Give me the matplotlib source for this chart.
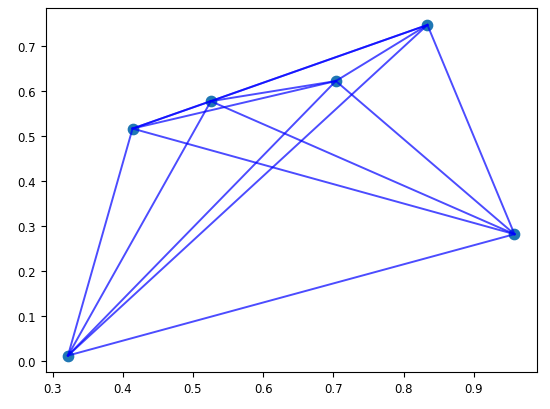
import itertools
import matplotlib
matplotlib.use("Agg")
import matplotlib.pyplot as plt

# node coordinates
x = [0.322, 0.414, 0.5255, 0.7036, 0.834, 0.958]
y = [0.011, 0.517, 0.578, 0.623, 0.748, 0.2816]

fig, ax = plt.subplots(figsize=(5.5, 4.1), dpi=100)
fig.subplots_adjust(left=0.083, right=0.976, top=0.977, bottom=0.09)

ax.scatter(x, y, s=55, color='#1f77b4')

# every pair of nodes is connected
for i, j in itertools.combinations(range(len(x)), 2):
    ax.plot([x[i], x[j]], [y[i], y[j]], color='blue', alpha=0.7, linewidth=1.4)

ax.tick_params(labelsize=8.5)
fig.savefig("out.png")
